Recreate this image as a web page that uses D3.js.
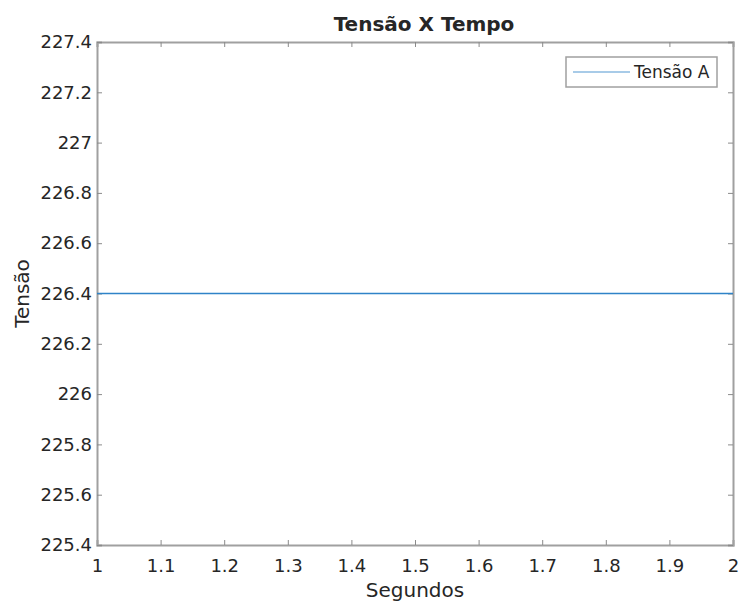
<!DOCTYPE html>
<html>
<head>
<meta charset="utf-8">
<title>Tensão X Tempo</title>
<style>
  body { margin: 0; background: #fff; }
  text { font-family: "DejaVu Sans", sans-serif; fill: #262626; }
</style>
</head>
<body>
<svg width="739" height="606"></svg>
<script src="https://d3js.org/d3.v7.min.js"></script>
<script>
// data
var seconds = [1, 2];
var tensaoA = [226.4, 226.4];
var xTicks = [1, 1.1, 1.2, 1.3, 1.4, 1.5, 1.6, 1.7, 1.8, 1.9, 2];
var yTicks = [225.4, 225.6, 225.8, 226, 226.2, 226.4, 226.6, 226.8, 227, 227.2, 227.4];

var svg = d3.select("svg"),
    margin = {top: 42, right: 6, bottom: 61, left: 97},
    width = 739 - margin.left - margin.right,
    height = 606 - margin.top - margin.bottom,
    g = svg.append("g").attr("transform", "translate(" + margin.left + "," + margin.top + ")");

var x = d3.scaleLinear().domain([1, 2]).range([0, width]);
var y = d3.scaleLinear().domain([225.4, 227.4]).range([height, 0]);

var axisColor = "#a0a0a0";

// axes with inward ticks, Octave style
var xAxis = g.append("g").attr("transform", "translate(0," + height + ")")
    .call(d3.axisBottom(x).tickValues(xTicks).tickSize(-5).tickPadding(14).tickFormat(d3.format("")));
var xTop = g.append("g")
    .call(d3.axisTop(x).tickValues(xTicks).tickSize(-5).tickFormat(""));
var yAxis = g.append("g")
    .call(d3.axisLeft(y).tickValues(yTicks).tickSize(-5).tickPadding(5).tickFormat(d3.format("")));
var yRight = g.append("g").attr("transform", "translate(" + width + ",0)")
    .call(d3.axisRight(y).tickValues(yTicks).tickSize(-5).tickFormat(""));

[xAxis, xTop, yAxis, yRight].forEach(function(a) {
  a.select(".domain").attr("stroke", axisColor).attr("stroke-width", 2);
  a.selectAll(".tick line").attr("stroke", "#8a8a8a").attr("stroke-width", 1);
  a.selectAll(".tick text").attr("fill", "#262626").style("font-size", "18px")
    .style("font-family", "DejaVu Sans, sans-serif");
});

// series line
var line = d3.line().x(function(d, i) { return x(seconds[i]); }).y(function(d) { return y(d); });
g.append("path").datum(tensaoA)
    .attr("fill", "none").attr("stroke", "#2f83c8").attr("stroke-width", 1.5)
    .attr("d", line);

// title and labels
svg.append("text").attr("x", 424).attr("y", 31).attr("text-anchor", "middle")
    .style("font-size", "20px").style("font-weight", "bold").attr("fill", "#000")
    .text("Tensão X Tempo");
svg.append("text").attr("x", margin.left + width / 2).attr("y", 597).attr("text-anchor", "middle")
    .style("font-size", "20px").text("Segundos");
svg.append("text").attr("transform", "translate(29," + (margin.top + height / 2) + ") rotate(-90)")
    .attr("text-anchor", "middle").style("font-size", "20px").text("Tensão");

// legend
var legend = svg.append("g").attr("transform", "translate(566,57)");
legend.append("rect").attr("width", 151).attr("height", 30)
    .attr("fill", "#fff").attr("stroke", "#a0a0a0").attr("stroke-width", 1.5);
legend.append("line").attr("x1", 7).attr("x2", 64).attr("y1", 15).attr("y2", 15)
    .attr("stroke", "#a8cbe8").attr("stroke-width", 2);
legend.append("text").attr("x", 68).attr("y", 21).style("font-size", "17px").text("Tensão A");
</script>
</body>
</html>
